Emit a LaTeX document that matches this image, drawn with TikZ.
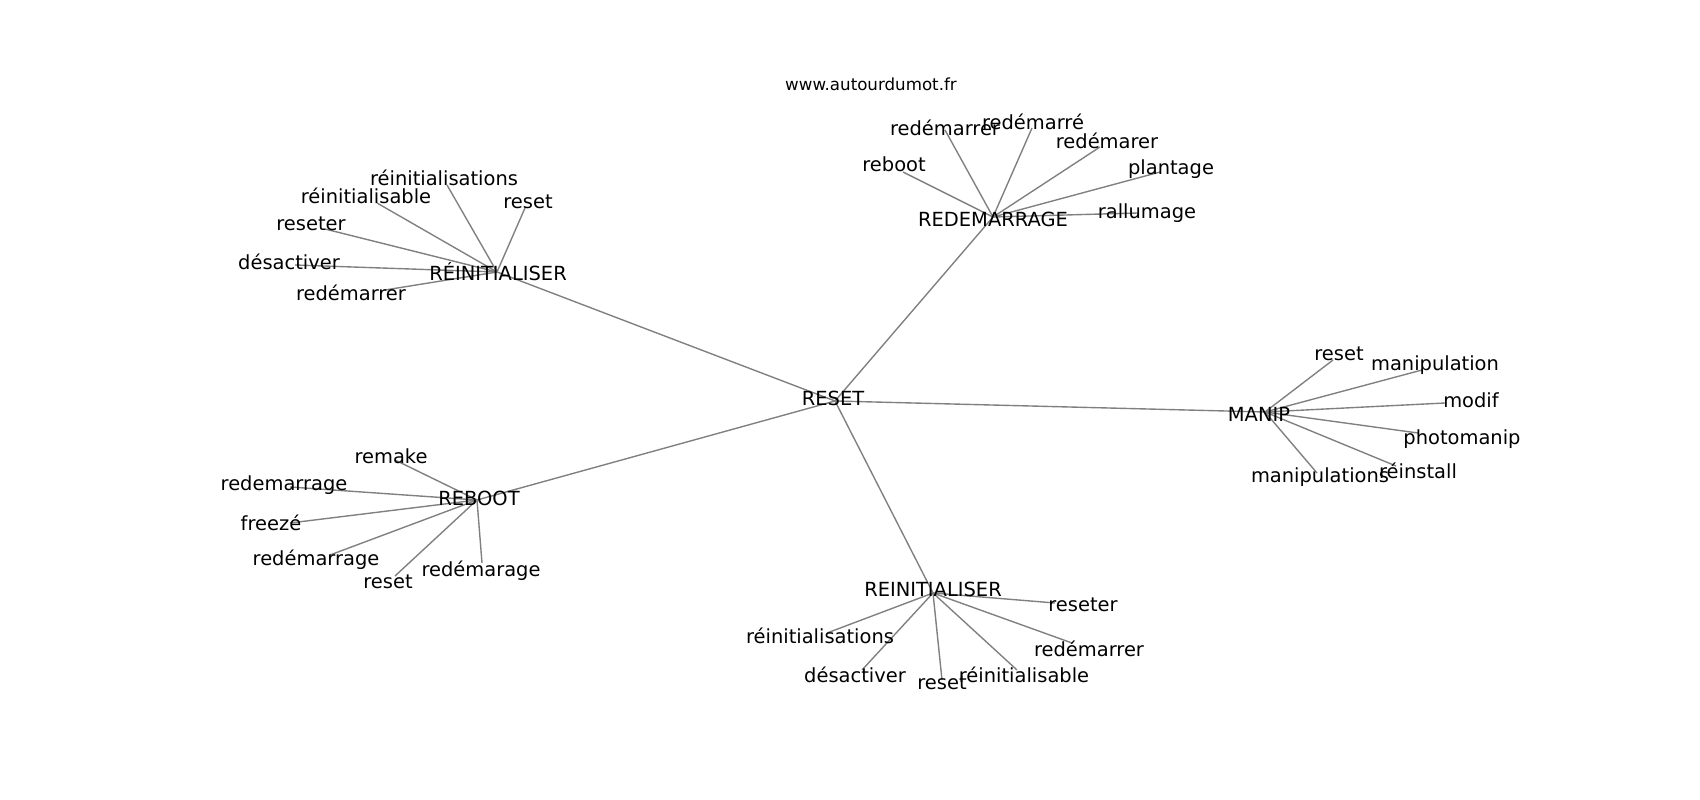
\documentclass[tikz,border=0pt]{standalone}
\usepackage{fontspec}
\setmainfont{DejaVu Sans}

\begin{document}
\begin{tikzpicture}[x=0.01in, y=-0.01in,
    word/.style={font=\fontsize{14bp}{17bp}\selectfont, inner sep=0pt, text height=13.4bp, text depth=3.4bp},
    edge/.style={draw=black!50, line width=1bp}]
    \useasboundingbox (0, 0) rectangle (1700, 800);

    \coordinate (reset) at (835, 401);
    \coordinate (reinit) at (497, 272);
    \coordinate (redem) at (993, 217);
    \coordinate (manip) at (1265, 412);
    \coordinate (reboot) at (477, 500);
    \coordinate (reinitb) at (933, 593);

    \coordinate (reinit-a) at (447, 185);
    \coordinate (reinit-b) at (377, 203);
    \coordinate (reinit-c) at (525, 208);
    \coordinate (reinit-d) at (325, 229);
    \coordinate (reinit-e) at (295, 265);
    \coordinate (reinit-f) at (385, 290);

    \coordinate (redem-a) at (903, 172);
    \coordinate (redem-b) at (945, 130);
    \coordinate (redem-c) at (1032, 128);
    \coordinate (redem-d) at (1100, 147);
    \coordinate (redem-e) at (1160, 172);
    \coordinate (redem-f) at (1138, 213);

    \coordinate (manip-a) at (1333, 360);
    \coordinate (manip-b) at (1422, 370);
    \coordinate (manip-c) at (1445, 403);
    \coordinate (manip-d) at (1418, 433);
    \coordinate (manip-e) at (1396, 466);
    \coordinate (manip-f) at (1317, 473);

    \coordinate (reboot-a) at (395, 460);
    \coordinate (reboot-b) at (290, 487);
    \coordinate (reboot-c) at (290, 523);
    \coordinate (reboot-d) at (330, 555);
    \coordinate (reboot-e) at (395, 576);
    \coordinate (reboot-f) at (482, 563);

    \coordinate (reinitb-a) at (827, 633);
    \coordinate (reinitb-b) at (862, 670);
    \coordinate (reinitb-c) at (942, 680);
    \coordinate (reinitb-d) at (1017, 670);
    \coordinate (reinitb-e) at (1055, 603);
    \coordinate (reinitb-f) at (1072, 643);

    \draw[edge] (reset) -- (reinit);
    \draw[edge] (reset) -- (redem);
    \draw[edge] (reset) -- (manip);
    \draw[edge] (reset) -- (reboot);
    \draw[edge] (reset) -- (reinitb);

    \draw[edge] (reinit) -- (reinit-a);
    \draw[edge] (reinit) -- (reinit-b);
    \draw[edge] (reinit) -- (reinit-c);
    \draw[edge] (reinit) -- (reinit-d);
    \draw[edge] (reinit) -- (reinit-e);
    \draw[edge] (reinit) -- (reinit-f);

    \draw[edge] (redem) -- (redem-a);
    \draw[edge] (redem) -- (redem-b);
    \draw[edge] (redem) -- (redem-c);
    \draw[edge] (redem) -- (redem-d);
    \draw[edge] (redem) -- (redem-e);
    \draw[edge] (redem) -- (redem-f);

    \draw[edge] (manip) -- (manip-a);
    \draw[edge] (manip) -- (manip-b);
    \draw[edge] (manip) -- (manip-c);
    \draw[edge] (manip) -- (manip-d);
    \draw[edge] (manip) -- (manip-e);
    \draw[edge] (manip) -- (manip-f);

    \draw[edge] (reboot) -- (reboot-a);
    \draw[edge] (reboot) -- (reboot-b);
    \draw[edge] (reboot) -- (reboot-c);
    \draw[edge] (reboot) -- (reboot-d);
    \draw[edge] (reboot) -- (reboot-e);
    \draw[edge] (reboot) -- (reboot-f);

    \draw[edge] (reinitb) -- (reinitb-a);
    \draw[edge] (reinitb) -- (reinitb-b);
    \draw[edge] (reinitb) -- (reinitb-c);
    \draw[edge] (reinitb) -- (reinitb-d);
    \draw[edge] (reinitb) -- (reinitb-e);
    \draw[edge] (reinitb) -- (reinitb-f);

    \node[font=\fontsize{12bp}{14bp}\selectfont] (site) at (871, 84) {www.autourdumot.fr};

    \node[word] (l-reset) at (833, 399) {RESET};
    \node[word] (l-reinit) at (498, 274) {RÉINITIALISER};
    \node[word] (l-redem) at (993, 220) {REDEMARRAGE};
    \node[word] (l-manip) at (1259, 415) {MANIP};
    \node[word] (l-reboot) at (479, 499) {REBOOT};
    \node[word] (l-reinitb) at (933, 590) {REINITIALISER};

    \node[word] (l-reinit-a) at (444, 179) {réinitialisations};
    \node[word] (l-reinit-b) at (366, 197) {réinitialisable};
    \node[word] (l-reinit-c) at (528, 202) {reset};
    \node[word] (l-reinit-d) at (311, 224) {reseter};
    \node[word] (l-reinit-e) at (289, 263) {désactiver};
    \node[word] (l-reinit-f) at (351, 294) {redémarrer};

    \node[word] (l-redem-a) at (894, 165) {reboot};
    \node[word] (l-redem-b) at (945, 129) {redémarrer};
    \node[word] (l-redem-c) at (1033, 123) {redémarré};
    \node[word] (l-redem-d) at (1107, 142) {redémarer};
    \node[word] (l-redem-e) at (1171, 168) {plantage};
    \node[word] (l-redem-f) at (1147, 212) {rallumage};

    \node[word] (l-manip-a) at (1339, 354) {reset};
    \node[word] (l-manip-b) at (1435, 364) {manipulation};
    \node[word] (l-manip-c) at (1471, 401) {modif};
    \node[word] (l-manip-d) at (1462, 438) {photomanip};
    \node[word] (l-manip-e) at (1418, 472) {réinstall};
    \node[word] (l-manip-f) at (1320, 476) {manipulations};

    \node[word] (l-reboot-a) at (391, 457) {remake};
    \node[word] (l-reboot-b) at (284, 484) {redemarrage};
    \node[word] (l-reboot-c) at (271, 524) {freezé};
    \node[word] (l-reboot-d) at (316, 559) {redémarrage};
    \node[word] (l-reboot-e) at (388, 582) {reset};
    \node[word] (l-reboot-f) at (481, 570) {redémarage};

    \node[word] (l-reinitb-a) at (820, 637) {réinitialisations};
    \node[word] (l-reinitb-b) at (855, 676) {désactiver};
    \node[word] (l-reinitb-c) at (942, 683) {reset};
    \node[word] (l-reinitb-d) at (1024, 676) {réinitialisable};
    \node[word] (l-reinitb-e) at (1083, 605) {reseter};
    \node[word] (l-reinitb-f) at (1089, 650) {redémarrer};
\end{tikzpicture}
\end{document}
